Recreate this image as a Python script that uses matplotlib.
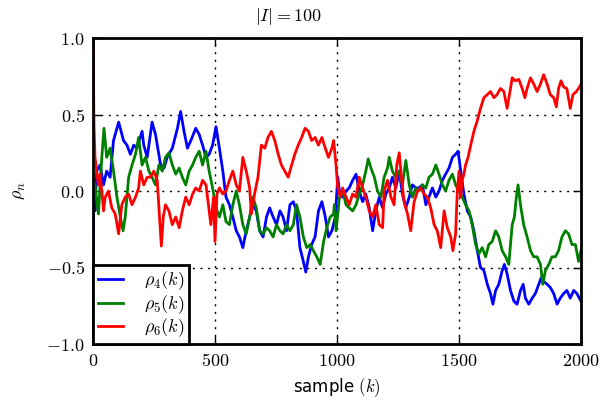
import matplotlib
matplotlib.use("Agg")
import matplotlib.pyplot as plt

# ---- data ----
k4 = [0, 4, 8, 15, 29, 43, 56, 70, 84, 105, 125, 139, 153, 167, 180, 201, 208, 222, 242, 256,
      277, 291, 304, 325, 346, 359, 373, 387, 401, 421, 435, 449, 463, 476, 490, 504, 518, 532,
      545, 559, 573, 587, 600, 614, 628, 642, 655, 669, 683, 697, 711, 724, 738, 752, 766, 779,
      793, 807, 821, 834, 848, 862, 872, 883, 896, 910, 924, 938, 952, 965, 979, 993,
      1003, 1010, 1023, 1037, 1050, 1064, 1078, 1091, 1105, 1118, 1132, 1146, 1159, 1173, 1187,
      1200, 1214, 1227, 1241, 1255, 1268, 1282, 1296, 1309, 1323, 1336, 1350, 1364, 1377, 1391,
      1405, 1418, 1432, 1445, 1459, 1473, 1486, 1496, 1507, 1520, 1534, 1548, 1561, 1575, 1588,
      1602, 1616, 1629, 1639, 1650, 1663, 1677, 1686, 1697, 1711, 1725, 1738, 1752, 1763, 1772,
      1786, 1800, 1813, 1827, 1836, 1847, 1861, 1874, 1888, 1902, 1915, 1929, 1942, 1956, 1970,
      1983, 2000]
rho4 = [-0.45, 0.05, -0.13, 0.13, 0.17, 0.04, 0.13, 0.09, 0.33, 0.45, 0.33, 0.30, 0.24, 0.30, 0.28,
        0.39, 0.30, 0.22, 0.45, 0.37, 0.17, 0.15, 0.22, 0.28, 0.41, 0.52, 0.39, 0.28, 0.33, 0.41,
        0.37, 0.30, 0.22, 0.24, 0.30, 0.42, 0.28, 0.13, -0.04, -0.09, -0.17, -0.26, -0.30, -0.37,
        -0.26, -0.17, -0.09, -0.13, -0.26, -0.30, -0.17, -0.11, -0.17, -0.22, -0.13, -0.17, -0.26,
        -0.09, -0.07, -0.13, -0.37, -0.46, -0.53, -0.43, -0.35, -0.30, -0.13, -0.07, -0.17, -0.30,
        -0.26, -0.17,
        0.09, 0.00, -0.04, 0.00, 0.02, 0.07, 0.11, 0.00, -0.07, -0.02, -0.11, -0.26, -0.13, -0.04,
        -0.11, -0.02, 0.02, 0.09, 0.02, 0.13, -0.02, -0.11, -0.04, 0.04, 0.02, 0.02, 0.04, -0.09,
        -0.04, 0.02, -0.04, 0.00, 0.07, 0.11, 0.15, 0.22, 0.24, 0.26, 0.13, -0.02, -0.13, -0.17,
        -0.26, -0.39, -0.50, -0.52, -0.61, -0.67, -0.74, -0.65, -0.61, -0.52, -0.48, -0.54, -0.65,
        -0.72, -0.74, -0.65, -0.61, -0.70, -0.74, -0.70, -0.67, -0.61, -0.57, -0.59, -0.61, -0.63,
        -0.67, -0.74, -0.70, -0.67, -0.65, -0.70, -0.65, -0.67, -0.72]

k5 = [0, 8, 22, 36, 45, 56, 70, 84, 98, 112, 123, 132, 146, 160, 174, 187, 201, 215, 229, 242,
      256, 270, 284, 297, 311, 325, 339, 353, 366, 380, 394, 408, 421, 435, 449, 463, 476, 490,
      504, 518, 532, 545, 559, 573, 587, 600, 614, 628, 642, 655, 669, 683, 697, 711, 724, 738,
      752, 766, 779, 793, 807, 821, 834, 848, 862, 876, 890, 903, 917, 931, 945, 958, 972, 986,
      989, 996, 1010, 1023, 1037, 1050, 1064, 1078, 1091, 1105, 1118, 1128, 1139, 1153, 1166,
      1180, 1193, 1207, 1214, 1227, 1241, 1255, 1268, 1282, 1296, 1309, 1323, 1336, 1350, 1364,
      1377, 1391, 1405, 1418, 1432, 1445, 1459, 1473, 1486, 1500, 1513, 1527, 1541, 1554, 1568,
      1582, 1595, 1609, 1622, 1636, 1650, 1663, 1677, 1691, 1704, 1718, 1727, 1735, 1742, 1752,
      1765, 1779, 1793, 1806, 1820, 1834, 1843, 1854, 1868, 1881, 1895, 1908, 1922, 1936, 1949,
      1963, 1977, 1990, 2000]
rho5 = [0.07, 0.04, -0.15, 0.22, 0.41, 0.22, 0.28, 0.13, -0.04, -0.17, -0.26, -0.17, 0.09, 0.17,
        0.24, 0.35, 0.17, 0.22, 0.13, 0.09, 0.04, 0.17, 0.13, 0.22, 0.25, 0.17, 0.11, 0.15, 0.09,
        0.04, 0.13, 0.17, 0.22, 0.26, 0.17, 0.26, 0.13, 0.02, -0.11, -0.17, -0.09, -0.20, -0.22,
        -0.09, 0.00, -0.09, -0.22, -0.28, -0.17, -0.04, -0.11, -0.26, -0.28, -0.24, -0.26, -0.30,
        -0.22, -0.26, -0.28, -0.22, -0.26, -0.22, -0.09, -0.17, -0.30, -0.37, -0.35, -0.39, -0.43,
        -0.48, -0.33, -0.24, -0.17, -0.15,
        -0.09, -0.26, -0.04, 0.00, -0.09, -0.11, -0.13, -0.09, -0.02, 0.04, 0.13, 0.21, 0.15, 0.09,
        0.00, -0.04, 0.09, 0.15, 0.22, 0.13, 0.09, 0.13, 0.04, 0.20, 0.04, -0.04, 0.02, 0.00, 0.04,
        0.02, 0.09, 0.11, 0.17, 0.11, 0.04, 0.00, 0.07, 0.11, 0.04, 0.00, -0.04, -0.09, -0.13,
        -0.22, -0.35, -0.41, -0.37, -0.43, -0.35, -0.33, -0.26, -0.30, -0.39, -0.43, -0.48, -0.22,
        -0.17, -0.04, 0.04, -0.09, -0.22, -0.30, -0.39, -0.43, -0.43, -0.48, -0.61, -0.52, -0.48,
        -0.43, -0.43, -0.39, -0.30, -0.26, -0.28, -0.35, -0.35, -0.46, -0.39]

k6 = [0, 4, 8, 15, 22, 29, 36, 43, 50, 63, 77, 91, 105, 118, 132, 146, 160, 174, 187, 194, 208,
      222, 235, 249, 263, 270, 280, 288, 297, 311, 325, 339, 353, 366, 380, 394, 408, 421, 435,
      449, 463, 476, 483, 494, 500, 508, 518, 532, 545, 559, 573, 587, 600, 614, 628, 642, 649,
      662, 676, 690, 704, 717, 731, 745, 759, 772, 786, 800, 814, 827, 841, 855, 869, 883, 896,
      910, 924, 938, 952, 965, 979, 986,
      996, 1003, 1014, 1023, 1037, 1050, 1064, 1078, 1091, 1105, 1118, 1132, 1146, 1159, 1173,
      1187, 1193, 1207, 1221, 1234, 1245, 1255, 1264, 1275, 1289, 1302, 1316, 1330, 1343, 1357,
      1370, 1384, 1398, 1411, 1425, 1439, 1452, 1466, 1475, 1486, 1493, 1500, 1507, 1513, 1520,
      1527, 1537, 1548, 1561, 1575, 1588, 1602, 1616, 1629, 1643, 1656, 1670, 1684, 1697, 1711,
      1718, 1731, 1745, 1759, 1770, 1779, 1793, 1806, 1820, 1834, 1847, 1861, 1874, 1888, 1899,
      1908, 1918, 1929, 1942, 1956, 1967, 1981, 1994, 2000]
rho6 = [1.00, 0.43, 0.22, 0.13, 0.04, 0.11, 0.00, -0.13, -0.04, 0.00, -0.11, -0.15, -0.28, -0.09,
        -0.04, -0.02, -0.09, -0.04, 0.02, 0.13, 0.04, 0.09, 0.09, 0.13, 0.07, -0.11, -0.36, -0.17,
        -0.09, -0.13, -0.22, -0.17, -0.24, -0.13, -0.04, -0.09, -0.02, 0.02, 0.00, 0.07, 0.04,
        -0.13, -0.22, -0.04, -0.33, -0.02, 0.02, -0.02, 0.00, 0.07, 0.13, 0.04, 0.00, 0.22, 0.13,
        0.02, -0.15, -0.02, 0.09, 0.30, 0.28, 0.35, 0.39, 0.33, 0.24, 0.17, 0.13, 0.09, 0.17, 0.24,
        0.30, 0.35, 0.41, 0.39, 0.33, 0.35, 0.30, 0.35, 0.28, 0.22, 0.28, 0.33,
        0.17, 0.02, -0.04, 0.02, -0.04, -0.09, -0.02, -0.04, 0.09, 0.02, -0.04, -0.13, -0.17,
        -0.09, -0.22, -0.24, 0.00, 0.07, -0.04, -0.09, 0.17, 0.25, 0.09, -0.07, -0.15, -0.26,
        -0.07, 0.00, 0.02, -0.02, -0.04, -0.11, -0.22, -0.26, -0.37, -0.13, -0.24, -0.30, -0.39,
        -0.28, 0.00, 0.13, -0.04, 0.07, 0.11, 0.17, 0.22, 0.30, 0.39, 0.46, 0.54, 0.61, 0.63, 0.65,
        0.61, 0.63, 0.67, 0.65, 0.54, 0.67, 0.74, 0.72, 0.73, 0.67, 0.61, 0.67, 0.74, 0.70, 0.65,
        0.70, 0.76, 0.70, 0.63, 0.61, 0.55, 0.67, 0.72, 0.68, 0.67, 0.54, 0.63, 0.65, 0.68, 0.70]

labels = [r"$\rho_4(k)$", r"$\rho_5(k)$", r"$\rho_6(k)$"]
colors = ["#0000ff", "#008000", "#ff0000"]
xticks = [0, 500, 1000, 1500, 2000]
xticklabels = [r"$0$", r"$500$", r"$1000$", r"$1500$", r"$2000$"]
yticks = [-1.0, -0.5, 0.0, 0.5, 1.0]
yticklabels = [r"$-1.0$", r"$-0.5$", r"$0.0$", r"$0.5$", r"$1.0$"]

plt.rcParams["mathtext.fontset"] = "cm"
plt.rcParams["font.family"] = ["DejaVu Sans"]

fig = plt.figure(figsize=(6.08, 4.0), dpi=100)
ax = fig.add_axes([0.153, 0.14, 0.8026, 0.765])

for k, r, lab, c in zip([k4, k5, k6], [rho4, rho5, rho6], labels, colors):
    ax.plot(k, r, color=c, lw=2.0, label=lab)

ax.set_xlim(0, 2000)
ax.set_ylim(-1.0, 1.0)
ax.set_xticks(xticks)
ax.set_xticklabels(xticklabels, fontsize=13)
ax.set_yticks(yticks)
ax.set_yticklabels(yticklabels, fontsize=13)
ax.tick_params(direction="in", top=True, right=True, length=6, width=1, pad=6)
ax.grid(True, color="black", linestyle=(0, (1.5, 4)), linewidth=1)
for s in ax.spines.values():
    s.set_linewidth(2)

ax.set_title(r"$|I| = 100$", fontsize=13, pad=12, x=0.40)
ax.set_xlabel(r"sample $(k)$", fontsize=12)
ax.set_ylabel(r"$\rho_n$", fontsize=13, labelpad=14)

leg = ax.legend(loc="lower left", borderaxespad=0, fancybox=False, fontsize=13,
                handlelength=1.4, borderpad=0.25, labelspacing=0.05, handletextpad=1.2)
leg.get_frame().set_edgecolor("black")
leg.get_frame().set_linewidth(2)
leg.get_frame().set_alpha(1)

fig.savefig("out.png", dpi=100)
